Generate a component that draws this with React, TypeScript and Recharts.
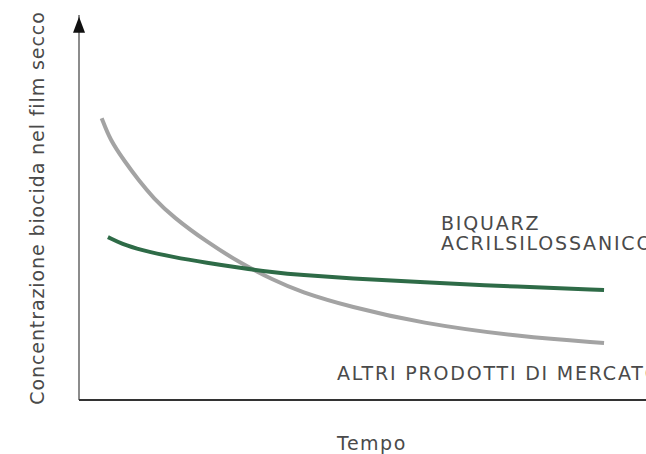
import { LineChart, Line, XAxis, YAxis, ReferenceLine, ReferenceDot } from 'recharts'

// values (x: time 0-100, y: concentration 0-100)
const altriX = [4.0, 5.5, 7.9, 10.6, 13.1, 16.6, 22.6, 28.4, 34.2, 39.0, 47.8, 60.1, 77.8, 92.6]
const altriY = [73.2, 67.5, 62.3, 56.9, 52.5, 47.5, 41.0, 35.6, 31.2, 28.1, 24.2, 20.0, 16.4, 14.8]

const biquarzX = [5.1, 7.6, 10.8, 16.6, 22.6, 28.4, 34.2, 39.0, 47.8, 60.1, 77.8, 92.6]
const biquarzY = [42.3, 40.5, 39.0, 37.1, 35.6, 34.3, 33.2, 32.5, 31.6, 30.6, 29.4, 28.6]

const altriData = altriX.map((x, i) => ({ x, y: altriY[i] }))
const biquarzData = biquarzX.map((x, i) => ({ x, y: biquarzY[i] }))

const font = '"DejaVu Sans", sans-serif'
const textColor = '#4a4a4a'

const Arrow = (props: any) => {
  const { cx, cy } = props
  return <path d={`M${cx},${cy - 6} L${cx - 6},${cy + 10} L${cx + 6},${cy + 10} Z`} fill="#111" />
}

export default function App() {
  return (
    <div style={{ position: 'absolute', left: 0, top: 0, width: 646, height: 454, overflow: 'hidden', fontFamily: font }}>
      <LineChart width={646} height={454} margin={{ top: 15, right: 0, bottom: 54, left: 79 }}>
        <XAxis type="number" dataKey="x" domain={[0, 100]} hide allowDataOverflow />
        <YAxis type="number" dataKey="y" domain={[0, 100]} hide width={0} allowDataOverflow />
        <ReferenceLine x={0} stroke="#666" strokeWidth={1.5} segment={[{ x: 0, y: 0 }, { x: 0, y: 95 }]} />
        <ReferenceLine y={0} stroke="#333" strokeWidth={2} />
        <ReferenceDot x={0} y={98} r={0} shape={Arrow} />
        <Line data={altriData} dataKey="y" type="basis" stroke="#a3a3a3" strokeWidth={4} dot={false} isAnimationActive={false} />
        <Line data={biquarzData} dataKey="y" type="basis" stroke="#2e6b47" strokeWidth={4} dot={false} isAnimationActive={false} />
      </LineChart>
      <div style={{ position: 'absolute', left: 441, top: 213, fontSize: 19, color: textColor, lineHeight: '20px', whiteSpace: 'nowrap', letterSpacing: 1.8 }}>
        BIQUARZ<br />ACRILSILOSSANICO
      </div>
      <div style={{ position: 'absolute', left: 337, top: 362, fontSize: 19, color: textColor, whiteSpace: 'nowrap', letterSpacing: 1.8 }}>
        ALTRI PRODOTTI DI MERCATO
      </div>
      <div style={{ position: 'absolute', left: 337, top: 432, fontSize: 19, color: textColor, whiteSpace: 'nowrap', letterSpacing: 1.5 }}>
        Tempo
      </div>
      <div style={{ position: 'absolute', left: 37, top: 208, width: 0, height: 0 }}>
        <div style={{ position: 'absolute', transform: 'translate(-50%, -50%) rotate(-90deg)', fontSize: 19, color: textColor, whiteSpace: 'nowrap', letterSpacing: 0.9 }}>
          Concentrazione biocida nel film secco
        </div>
      </div>
    </div>
  )
}
